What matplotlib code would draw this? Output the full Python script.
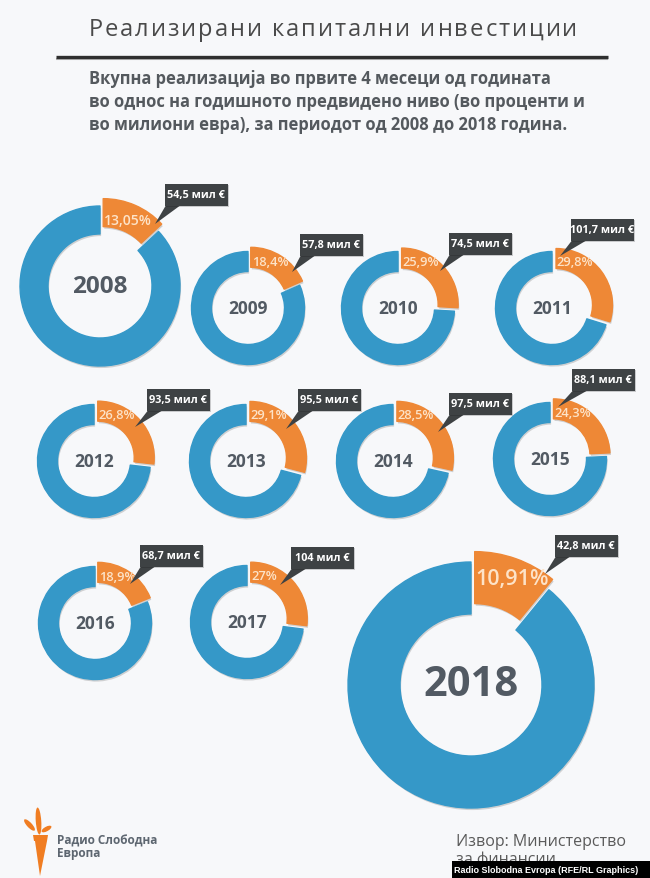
import matplotlib
matplotlib.use('Agg')
import matplotlib.pyplot as plt
from matplotlib import patches
from matplotlib import patheffects as pe

plt.rcParams['font.family'] = ['Open Sans', 'DejaVu Sans']

# data
years = ['2008', '2009', '2010', '2011', '2012', '2013', '2014', '2015', '2016', '2017', '2018']
shares = [13.05, 18.4, 25.9, 29.8, 26.8, 29.1, 28.5, 24.3, 18.9, 27, 10.91]      # % realised
amounts = [54.5, 57.8, 74.5, 101.7, 93.5, 95.5, 97.5, 88.1, 68.7, 104, 42.8]     # мил €

title = 'Реализирани капитални инвестиции'
subtitle = ['Вкупна реализација во првите 4 месеци од годината',
            'во однос на годишното предвидено ниво (во проценти и',
            'во милиони евра), за периодот од 2008 до 2018 година.']
source = ['Извор: Министерство', 'за финансии']
brand = ['Радио Слободна', 'Европа']
credit = 'Radio Slobodna Evropa (RFE/RL Graphics)'

# layout, in pixels from the top-left corner
centers = [(100, 287), (248, 309), (398, 309), (552, 309),
           (94, 462), (246, 462), (393, 462), (550, 460),
           (95, 624), (247, 623), (471, 686)]
kinds = ['big'] + ['small'] * 9 + ['huge']
boxes = [(196, 196), (331, 246), (480, 245), (602, 231),
         (178, 401), (329, 401), (480, 405), (603, 381),
         (171, 557), (322, 559), (586, 547)]
tips = [(155, 225), (292, 273), (440, 272), (560, 257),
        (135, 428), (286, 430), (438, 433), (558, 408),
        (130, 585), (280, 586), (545, 575)]

style = {
    'small': dict(r=56.5, hole=36.5, gap=5, year_fs=12.5, pct_fs=9.3, pct_dy=46),
    'big':   dict(r=80, hole=52, gap=8, year_fs=17.5, pct_fs=10, pct_dy=66),
    'huge':  dict(r=123, hole=71, gap=11, year_fs=30, pct_fs=15.5, pct_dy=106),
}

BG = '#f7f8fa'
BLUE = '#3598c8'
ORANGE = '#ee8836'
BOX = '#3e4244'
GREY = '#525a63'
PCT = '#fde3c8'

W, H = 650, 879
fig = plt.figure(figsize=(W / 100, H / 100), dpi=100, facecolor=BG)
ax = fig.add_axes([0, 0, 1, 1])
ax.set_facecolor(BG)

shadow = [pe.SimplePatchShadow(offset=(0.8, -1.5), shadow_rgbFace='black', alpha=0.16), pe.Normal()]


def fmt(v):
    return f'{v:g}'.replace('.', ',')


for yr, sh, amt, (cx, cy), kind, (bx, by), (tx, ty) in zip(
        years, shares, amounts, centers, kinds, boxes, tips):
    st = style[kind]
    # y axis is inverted -> start at -90 and go "counterclockwise" = clockwise from 12 o'clock on screen
    wedges, _ = ax.pie([sh, 100 - sh], colors=[ORANGE, BLUE], startangle=-90, counterclock=True,
                       center=(cx, cy), radius=st['r'], explode=[st['gap'], 0],
                       wedgeprops=dict(width=st['r'] - st['hole'], linewidth=1, joinstyle='round'),
                       frame=True)
    for w in wedges:
        w.set_edgecolor(w.get_facecolor())
        w.set_path_effects(shadow)
    ax.text(cx, cy, yr, ha='center', va='center', fontsize=st['year_fs'],
            fontweight='bold', color=GREY, zorder=5)
    ax.text(cx + 4, cy - st['pct_dy'], fmt(sh) + '%', ha='left', va='center',
            fontsize=st['pct_fs'], fontweight='semibold', color=PCT, zorder=5)

    # callout with pointer
    bw, bh = 63, 22
    x0, y0 = bx - bw / 2, by - bh / 2
    ax.add_patch(patches.Polygon([(x0 + 1, y0 + bh), (x0 + 15, y0 + bh), (tx, ty)],
                                 closed=True, facecolor=BOX, edgecolor='none', zorder=6))
    ax.add_patch(patches.Rectangle((x0, y0), bw, bh, facecolor=BOX, edgecolor='none', zorder=6,
                                   path_effects=[pe.SimplePatchShadow(offset=(0.8, -1), alpha=0.2),
                                                 pe.Normal()]))
    ax.text(bx, by, fmt(amt) + ' мил €', ha='center', va='center', fontsize=7.8,
            fontweight='bold', color='white', zorder=7)

ax.set_xlim(0, W)
ax.set_ylim(H, 0)
ax.axis('off')

# title with letter spacing
renderer = fig.canvas.get_renderer()
tkw = dict(fontsize=17, color='#4a4a4a', va='center', ha='left')


def text_w(s):
    t = ax.text(0, 0, s, **tkw)
    w = t.get_window_extent(renderer=renderer).width
    t.remove()
    return w


space_w = text_w('н н') - text_w('нн')
widths = [space_w if ch == ' ' else text_w(ch) for ch in title]
spacing = 2.0
total = sum(widths) + spacing * (len(title) - 1)
xc = 333 - total / 2
for ch, w in zip(title, widths):
    if ch != ' ':
        ax.text(xc, 30, ch, **tkw)
    xc += w + spacing

ax.plot([56, 608], [60, 60], color='#bbbbbb', lw=1.5, solid_capstyle='butt')
ax.plot([56, 608], [58, 58], color='#2f2f2f', lw=2.4, solid_capstyle='butt')

for i, line in enumerate(subtitle):
    ax.text(89, 79 + i * 23, line, ha='left', va='center', fontsize=11.9,
            fontweight='bold', color='#54595e')

# source
ax.text(456, 842, source[0], ha='left', va='center', fontsize=11.5, color='#5a5a5a')
ax.text(456, 860, source[1], ha='left', va='center', fontsize=11.5, color='#5a5a5a')
ax.add_patch(patches.Rectangle((452, 862), W - 452, H - 862, facecolor='black', zorder=8))
ax.text(546, 871, credit, ha='center', va='center', fontsize=6.5, fontweight='bold', color='white',
        family=['Liberation Sans Narrow', 'Liberation Sans', 'DejaVu Sans'], zorder=9)

# brand: torch + name
TORCH = '#f07d22'
ax.add_patch(patches.Polygon([(33, 836), (48, 836), (47, 842), (34, 842)], facecolor=TORCH, edgecolor='none'))
ax.add_patch(patches.Polygon([(35, 842), (47, 842), (40, 877)], facecolor=TORCH, edgecolor='none'))
ax.add_patch(patches.Ellipse((38.5, 822), 5.5, 27, angle=-4, facecolor=TORCH, edgecolor='none'))
ax.add_patch(patches.Ellipse((29.5, 826), 15, 5, angle=47, facecolor=TORCH, edgecolor='none'))
ax.add_patch(patches.Ellipse((46.5, 830), 11, 4.5, angle=-29, facecolor=TORCH, edgecolor='none'))
ax.text(57, 841, brand[0], ha='left', va='center', fontsize=8.5, fontweight='bold', color='#5d6670')
ax.text(57, 854, brand[1], ha='left', va='center', fontsize=8.5, fontweight='bold', color='#5d6670')

fig.savefig('out.png', dpi=100, facecolor=BG)
